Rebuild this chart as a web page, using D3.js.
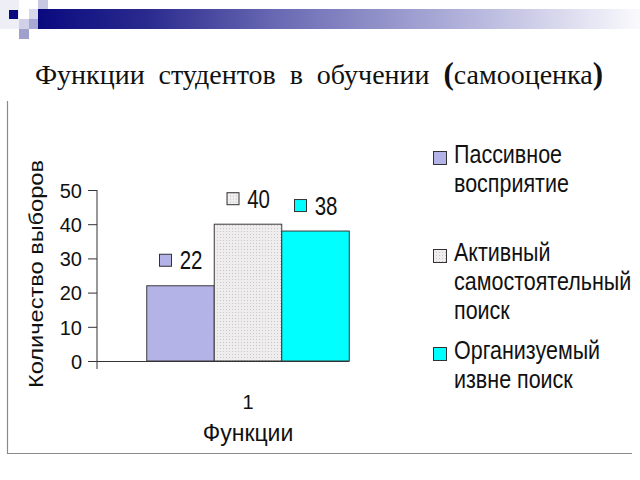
<!DOCTYPE html>
<html>
<head>
<meta charset="utf-8">
<script src="https://cdn.jsdelivr.net/npm/d3@7"></script>
<style>
  html, body { margin: 0; padding: 0; background: #fff; }
  svg { display: block; }
</style>
</head>
<body>
<div id="chart"></div>
<script>
// data
const categories = ['1'];
const seriesNames = ['Пассивное восприятие', 'Активный самостоятельный поиск', 'Организуемый извне поиск'];
const legendLines = [['Пассивное', 'восприятие'], ['Активный', 'самостоятельный', 'поиск'], ['Организуемый', 'извне поиск']];
const seriesValues = [22, 40, 38];
const yTicks = [0, 10, 20, 30, 40, 50];
const seriesColors = ['#b3b3e8', 'url(#dots)', '#00ffff'];

const width = 640, height = 480;
const sans = '"Liberation Sans", Arial, sans-serif';

const svg = d3.select('#chart').append('svg')
    .attr('width', width)
    .attr('height', height);

const defs = svg.append('defs');

// header gradient bar
const grad = defs.append('linearGradient').attr('id', 'hdr').attr('x1', 0).attr('x2', 1);
[[0, '#0a0a80'], [0.18, '#2a2a8e'], [0.4, '#6a6ab4'], [0.7, '#b0b0da'], [0.92, '#e6e6f4'], [1, '#fafafd']]
    .forEach(([o, c]) => grad.append('stop').attr('offset', o).attr('stop-color', c));

// dotted fill for second series
const pat = defs.append('pattern').attr('id', 'dots')
    .attr('width', 3).attr('height', 3).attr('patternUnits', 'userSpaceOnUse');
pat.append('rect').attr('width', 3).attr('height', 3).attr('fill', '#efeded');
pat.append('rect').attr('width', 1).attr('height', 1).attr('fill', '#c9c6c6');

// top-left decoration
svg.append('rect').attr('x', 38).attr('y', 9).attr('width', 602).attr('height', 20).attr('fill', 'url(#hdr)');
const deco = [
    [0, 0, 19, 29, '#eeeef6'], [38, 0, 10, 9, '#c8c8e2'], [29, 9, 9, 10, '#d8d8ec'],
    [29, 19, 9, 10, '#a8a8d4'], [19, 19, 10, 10, '#d0d0e8'], [19, 29, 10, 10, '#a0a0cc'],
    [9, 10, 9, 9, '#0a0a80']
];
svg.append('g').selectAll('rect').data(deco).join('rect')
    .attr('x', d => d[0]).attr('y', d => d[1])
    .attr('width', d => d[2]).attr('height', d => d[3])
    .attr('fill', d => d[4]);

// title - normal letters, slightly wide word gaps
const title = svg.append('text')
    .attr('x', 35).attr('y', 84)
    .attr('font-family', '"Liberation Serif", "Times New Roman", serif')
    .attr('font-size', 28)
    .attr('fill', '#111');
title.append('tspan').text('Функции студентов в обучении ');
title.append('tspan').attr('font-weight', 'bold').attr('font-size', 31).text('(');
title.append('tspan').text('самооценка');
title.append('tspan').attr('font-weight', 'bold').attr('font-size', 31).text(')');
const natural = title.node().getComputedTextLength();
title.attr('word-spacing', Math.max(0, (568 - natural) / 4));

// slide frame (left and bottom only)
svg.append('path')
    .attr('d', 'M7.5,101 V453.5 H632')
    .attr('fill', 'none')
    .attr('stroke', '#8a8a8a')
    .attr('stroke-width', 1.2);

// scales
const y = d3.scaleLinear().domain([0, 50]).range([361, 190]);
const x0 = d3.scaleBand().domain(categories).range([97, 399]);
const x1 = d3.scaleBand().domain(seriesNames).range([0, x0.bandwidth()]).paddingOuter(0.737);

// y axis
const yAxis = svg.append('g')
    .attr('transform', 'translate(97,0)')
    .call(d3.axisLeft(y).tickValues(yTicks).tickSize(9).tickPadding(6));
yAxis.select('.domain').attr('d', `M0,${y(50)}V${y(0) + 8}`);
yAxis.selectAll('line, path').attr('stroke', '#333');
yAxis.selectAll('text')
    .attr('font-family', sans)
    .attr('font-size', 20)
    .attr('fill', '#111')
    .attr('dy', '0.36em');

// bars
const bars = svg.append('g').selectAll('g')
    .data(categories).join('g')
    .attr('transform', d => `translate(${x0(d)},0)`);

bars.selectAll('rect')
    .data(() => seriesNames.map((s, i) => ({ s, v: seriesValues[i], i })))
    .join('rect')
    .attr('x', d => x1(d.s))
    .attr('y', d => y(d.v))
    .attr('width', x1.bandwidth())
    .attr('height', d => y(0) - y(d.v))
    .attr('fill', d => seriesColors[d.i])
    .attr('stroke', '#3a3a3a')
    .attr('stroke-width', 1);

// x axis line
const lastBarEnd = x0(categories[0]) + x1(seriesNames[2]) + x1.bandwidth();
svg.append('line')
    .attr('x1', 88).attr('x2', lastBarEnd)
    .attr('y1', y(0) + 0.5).attr('y2', y(0) + 0.5)
    .attr('stroke', '#333');

// data labels with legend keys
const lbl = bars.selectAll('g.lbl')
    .data(() => seriesNames.map((s, i) => ({ s, v: seriesValues[i], i })))
    .join('g')
    .attr('class', 'lbl')
    .attr('transform', d => `translate(${x1(d.s) + x1.bandwidth() / 2},${y(d.v) - 16.5})`);
lbl.append('rect')
    .attr('x', -21).attr('y', -15)
    .attr('width', 12).attr('height', 12)
    .attr('fill', d => seriesColors[d.i])
    .attr('stroke', '#333');
lbl.append('text')
    .attr('x', -1)
    .attr('transform', 'scale(0.82,1)')
    .attr('font-family', sans)
    .attr('font-size', 25)
    .attr('fill', '#111')
    .text(d => d.v);

// category label and x title
svg.append('text')
    .attr('x', x0(categories[0]) + x0.bandwidth() / 2).attr('y', 409)
    .attr('text-anchor', 'middle')
    .attr('font-family', sans).attr('font-size', 20).attr('fill', '#111')
    .text(categories[0]);
svg.append('text')
    .attr('x', x0(categories[0]) + x0.bandwidth() / 2).attr('y', 441)
    .attr('text-anchor', 'middle')
    .attr('font-family', sans).attr('font-size', 23).attr('fill', '#111')
    .text('Функции');

// y title
svg.append('text')
    .attr('transform', 'translate(43,274) rotate(-90)')
    .attr('text-anchor', 'middle')
    .attr('font-family', sans).attr('font-size', 21).attr('fill', '#111')
    .attr('textLength', 228).attr('lengthAdjust', 'spacingAndGlyphs')
    .text('Количество выборов');

// legend
const legend = svg.append('g').selectAll('g')
    .data(seriesNames).join('g')
    .attr('transform', (d, i) => `translate(433,${163 + i * 98})`);
legend.append('rect')
    .attr('x', 0.5).attr('y', -11.5)
    .attr('width', 13).attr('height', 13)
    .attr('fill', (d, i) => seriesColors[i])
    .attr('stroke', '#333');
legend.append('text')
    .attr('transform', 'translate(21,0) scale(0.86,1)')
    .attr('font-family', sans).attr('font-size', 25).attr('fill', '#111')
    .selectAll('tspan')
    .data((d, i) => legendLines[i])
    .join('tspan')
    .attr('x', 0)
    .attr('y', (d, j) => j * 29)
    .text(d => d);
</script>
</body>
</html>
